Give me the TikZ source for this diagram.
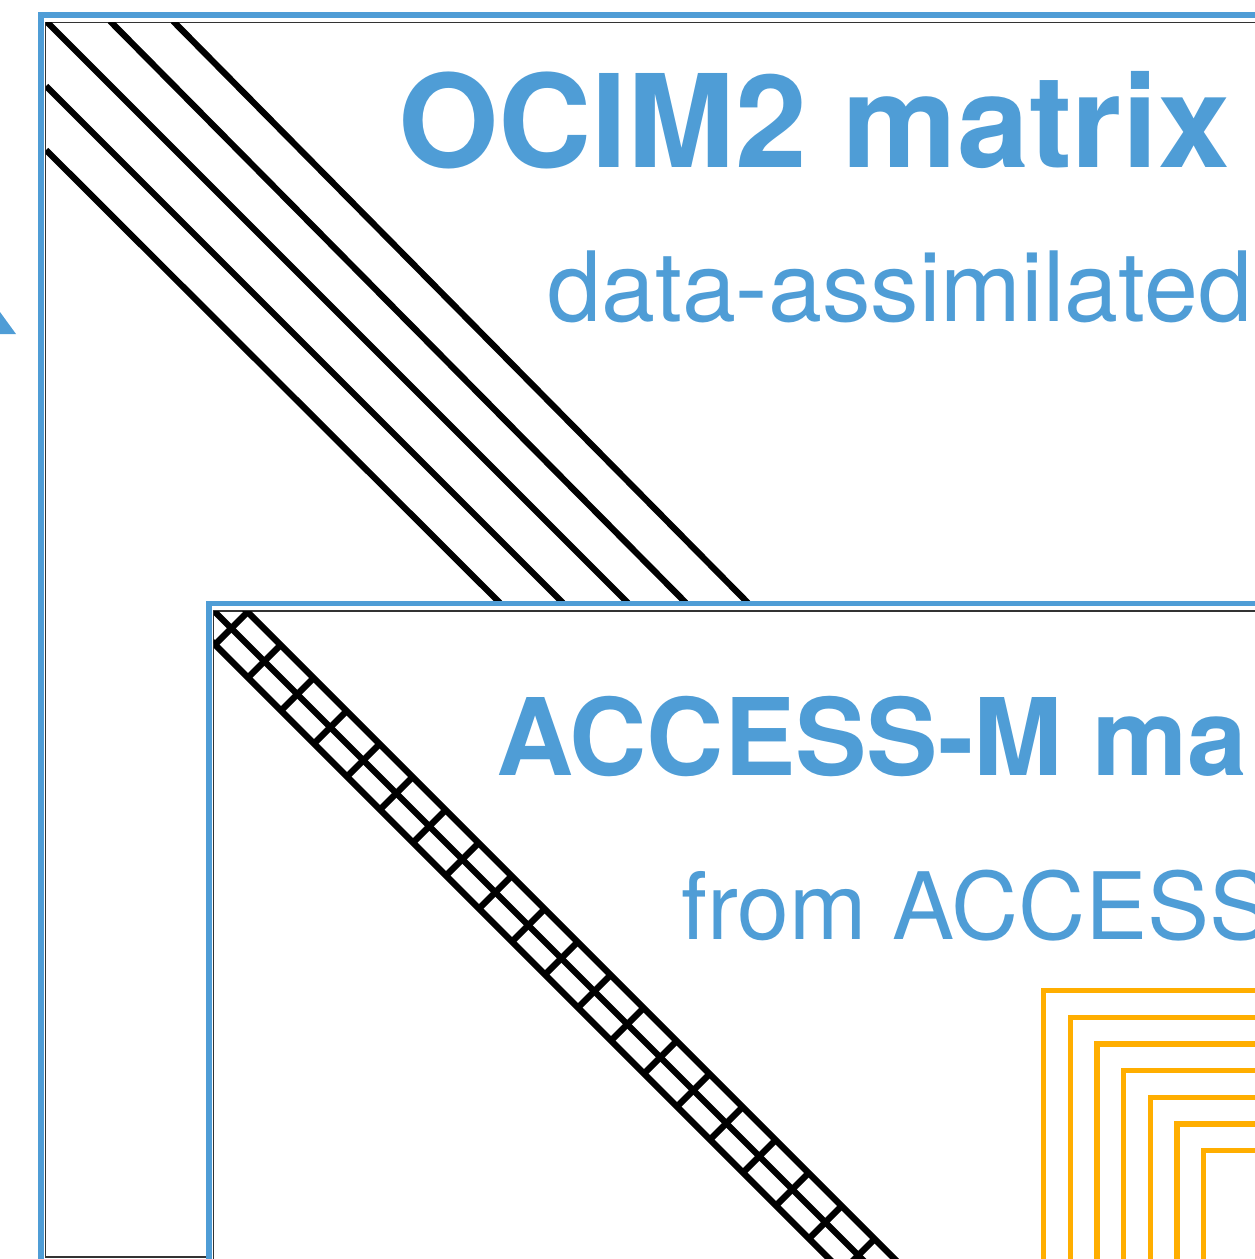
\documentclass[tikz,border=0pt]{standalone}
\usepackage{fontspec}
\usepackage{graphicx}
\newfontfamily\hv{TeX Gyre Heros}
\definecolor{oblue}{RGB}{79,157,214}
\definecolor{oorange}{RGB}{255,174,0}
\begin{document}
\begin{tikzpicture}[x=1pt,y=-1pt,
  bluebox/.style={draw=oblue,line width=5.5pt},
  thinbox/.style={draw=black!80,line width=1.4pt},
  diagline/.style={draw=black,line width=6.3pt},
  corner/.style={draw=oorange,line width=5.5pt},
  titletext/.style={text=oblue,inner sep=0pt,anchor=base west},
]
\useasboundingbox (0,0) rectangle (1255,1259);
\clip (0,0) rectangle (1255,1259);

% arrowhead at left edge
\fill[oblue] (0,312) -- (16,334) -- (0,334) -- cycle;

% OCIM2 box
\draw[bluebox] (40.8,15.2) rectangle (1320,1320);
\draw[thinbox] (45.7,22.7) rectangle (1320,1257);
\begin{scope}
  \clip (45.7,22.7) rectangle (1320,1257);
  \draw[diagline] (46,21) -- (628,603);
  \draw[diagline] (110,21) -- (686,603);
  \draw[diagline] (173,21) -- (748,603);
  \draw[diagline] (46,86) -- (563,603);
  \draw[diagline] (46,150) -- (500,603);
\end{scope}
\node[titletext] (ocimtitle) at (398,167)
  {\hv\bfseries\fontsize{129pt}{131pt}\selectfont OCIM2 matrix};
\node[titletext] (ocimsub) at (547,321)
  {\hv\fontsize{97pt}{99pt}\selectfont data-assimilated};

% ACCESS-M box
\filldraw[bluebox,fill=white] (209,603.5) rectangle (1320,1320);
\draw[thinbox] (213.5,611) rectangle (1320,1320);
\begin{scope}
  \clip (213.5,611) rectangle (1320,1320);
  \draw[diagline] (213,610) -- (913,1310);
  \draw[diagline] ({215+16.3-20},{612-16.3-20}) -- ({215+16.3+700},{612-16.3+700});
  \draw[diagline] ({215-16.3-20},{612+16.3-20}) -- ({215-16.3+700},{612+16.3+700});
  \foreach \k in {0,...,20}{
    \draw[diagline] ({215+16.3+33*\k-16.3},{612+16.3+33*\k+16.3})
      -- ({215+16.3+33*\k+16.3},{612+16.3+33*\k-16.3});
  }
\end{scope}
\node[titletext] (accesstitle) at (496,775.7)
  {\hv\bfseries\fontsize{107pt}{110pt}\selectfont ACCESS-M ma};
\node[titletext] (accesssub) at (681,939)
  {\hv\fontsize{93pt}{95pt}\selectfont from ACCESS};

% nested orange corners
\foreach \k in {0,...,6}{
  \draw[corner] ({1043.7+26.67*\k},1320) |- (1320,{990.7+26.67*\k});
}
\end{tikzpicture}
\end{document}
